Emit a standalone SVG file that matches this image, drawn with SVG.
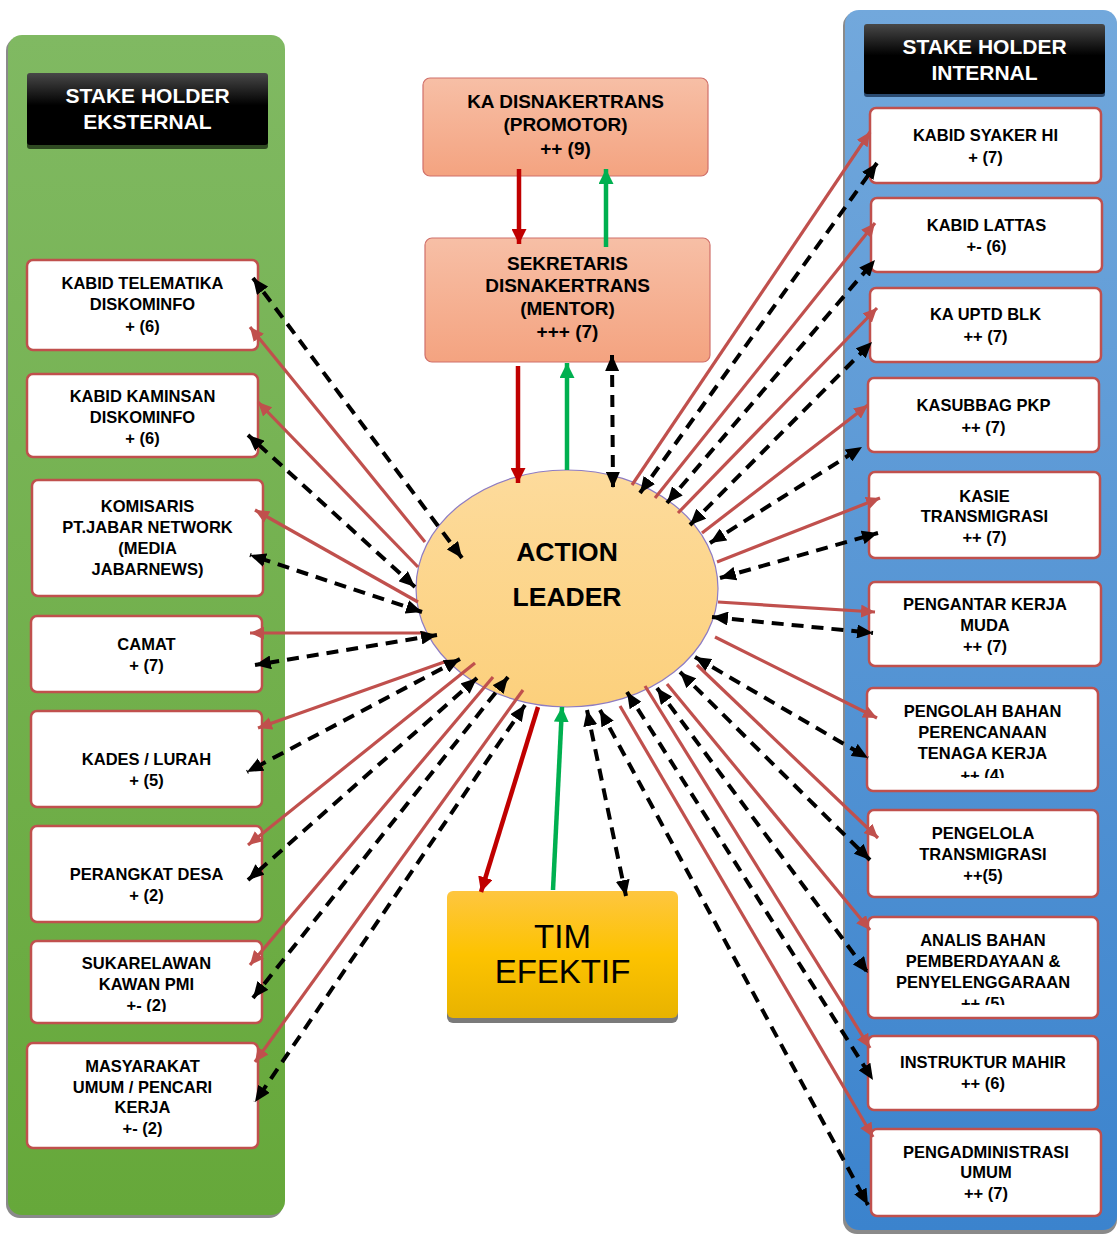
<svg xmlns="http://www.w3.org/2000/svg" width="1118" height="1235" viewBox="0 0 1118 1235">
  <defs>
    <linearGradient id="gGreen" x1="0" y1="0" x2="0" y2="1">
      <stop offset="0" stop-color="#80b962"/>
      <stop offset="1" stop-color="#66a83a"/>
    </linearGradient>
    <linearGradient id="gBlue" x1="0" y1="0" x2="0" y2="1">
      <stop offset="0" stop-color="#72a8dc"/>
      <stop offset="1" stop-color="#3b83cd"/>
    </linearGradient>
    <linearGradient id="gBlack" x1="0" y1="0" x2="0" y2="1">
      <stop offset="0" stop-color="#484848"/>
      <stop offset="0.45" stop-color="#000"/>
      <stop offset="1" stop-color="#000"/>
    </linearGradient>
    <linearGradient id="gSalmon" x1="0" y1="0" x2="0" y2="1">
      <stop offset="0" stop-color="#f7bfa6"/>
      <stop offset="1" stop-color="#f4a380"/>
    </linearGradient>
    <linearGradient id="gGold" x1="0" y1="0" x2="0" y2="1">
      <stop offset="0" stop-color="#fec640"/>
      <stop offset="0.5" stop-color="#fdc300"/>
      <stop offset="1" stop-color="#e8b300"/>
    </linearGradient>
    <linearGradient id="gCore" x1="0" y1="0" x2="0" y2="1">
      <stop offset="0" stop-color="#fddb9c"/>
      <stop offset="1" stop-color="#fcd07c"/>
    </linearGradient>
    <marker id="hr" markerUnits="userSpaceOnUse" markerWidth="14" markerHeight="13" refX="14" refY="6.5" orient="auto-start-reverse">
      <path d="M0,0 L14,6.5 L0,13 z" fill="#c0504d"/>
    </marker>
    <marker id="hb" markerUnits="userSpaceOnUse" markerWidth="16" markerHeight="14" refX="16" refY="7" orient="auto-start-reverse">
      <path d="M0,0 L16,7 L0,14 z" fill="#000"/>
    </marker>
    <marker id="hd" markerUnits="userSpaceOnUse" markerWidth="15" markerHeight="15" refX="15" refY="7.5" orient="auto">
      <path d="M0,0 L15,7.5 L0,15 z" fill="#c00000"/>
    </marker>
    <marker id="hg" markerUnits="userSpaceOnUse" markerWidth="15" markerHeight="15" refX="15" refY="7.5" orient="auto">
      <path d="M0,0 L15,7.5 L0,15 z" fill="#00b050"/>
    </marker>
    <clipPath id="clipL7"><rect x="31" y="941" width="231" height="71"/></clipPath>
    <clipPath id="clipR7"><rect x="867" y="688" width="231" height="90"/></clipPath>
    <clipPath id="clipR9"><rect x="868" y="917" width="230" height="88"/></clipPath>
    <style>
      .lbl { font-family: "Liberation Sans", Arial, sans-serif; font-weight: 700; font-size: 16.5px; text-anchor: middle; fill: #000; }
      .hdr { font-family: "Liberation Sans", Arial, sans-serif; font-weight: 700; font-size: 21px; text-anchor: middle; fill: #fff; }
      .top { font-family: "Liberation Sans", Arial, sans-serif; font-weight: 700; font-size: 19px; text-anchor: middle; fill: #000; }
      .core { font-family: "Liberation Sans", Arial, sans-serif; font-weight: 700; font-size: 26.5px; text-anchor: middle; fill: #000; }
      .tim { font-family: "Liberation Sans", Arial, sans-serif; font-size: 33px; text-anchor: middle; fill: #000; }
      .box { fill: #fff; stroke: #c0504d; stroke-width: 2.5; }
      .rl { fill: none; stroke: #c0504d; stroke-width: 3.2; marker-end: url(#hr); }
      .dl { fill: none; stroke: #000; stroke-width: 4; stroke-dasharray: 12 8; marker-start: url(#hb); marker-end: url(#hb); }
      .dk { fill: none; stroke: #c00000; stroke-width: 4.5; marker-end: url(#hd); }
      .gn { fill: none; stroke: #00b050; stroke-width: 4.5; marker-end: url(#hg); }
    </style>
  </defs>

  <rect width="1118" height="1235" fill="#fff"/>

  <!-- external stakeholder panel -->
  <g id="panel-eksternal">
    <rect x="6" y="37" width="277" height="1181" rx="14" fill="#8a8a8a"/>
    <rect x="8" y="35" width="277" height="1180" rx="14" fill="url(#gGreen)"/>
    <rect x="27" y="76" width="241" height="73" rx="3" fill="#2f4a22"/>
    <rect x="27" y="73" width="241" height="72" rx="3" fill="url(#gBlack)"/>
    <text class="hdr" x="147.5" y="103">STAKE HOLDER</text>
    <text class="hdr" x="147.5" y="129">EKSTERNAL</text>
  </g>

  <!-- internal stakeholder panel -->
  <g id="panel-internal">
    <rect x="843" y="12" width="274" height="1222" rx="14" fill="#8a8a8a"/>
    <rect x="845" y="10" width="272" height="1220" rx="14" fill="url(#gBlue)"/>
    <rect x="864" y="27" width="241" height="70" rx="3" fill="#2a4a70"/>
    <rect x="864" y="24" width="241" height="70" rx="3" fill="url(#gBlack)"/>
    <text class="hdr" x="984.5" y="54">STAKE HOLDER</text>
    <text class="hdr" x="984.5" y="80">INTERNAL</text>
  </g>

  <!-- external stakeholders -->
  <g id="ext-telematika">
    <rect class="box" x="27" y="260" width="231" height="90" rx="6"/>
    <text class="lbl" x="142.5" y="289">KABID TELEMATIKA</text>
    <text class="lbl" x="142.5" y="310">DISKOMINFO</text>
    <text class="lbl" x="142.5" y="332">+ (6)</text>
  </g>
  <g id="ext-kaminsan">
    <rect class="box" x="27" y="374" width="231" height="83" rx="6"/>
    <text class="lbl" x="142.5" y="402">KABID KAMINSAN</text>
    <text class="lbl" x="142.5" y="423">DISKOMINFO</text>
    <text class="lbl" x="142.5" y="444">+ (6)</text>
  </g>
  <g id="ext-komisaris">
    <rect class="box" x="32" y="480" width="231" height="116" rx="6"/>
    <text class="lbl" x="147.5" y="512">KOMISARIS</text>
    <text class="lbl" x="147.5" y="533">PT.JABAR NETWORK</text>
    <text class="lbl" x="147.5" y="554">(MEDIA</text>
    <text class="lbl" x="147.5" y="575">JABARNEWS)</text>
  </g>
  <g id="ext-camat">
    <rect class="box" x="31" y="616" width="231" height="76" rx="6"/>
    <text class="lbl" x="146.5" y="650">CAMAT</text>
    <text class="lbl" x="146.5" y="671">+ (7)</text>
  </g>
  <g id="ext-kades">
    <rect class="box" x="31" y="711" width="231" height="96" rx="6"/>
    <text class="lbl" x="146.5" y="765">KADES / LURAH</text>
    <text class="lbl" x="146.5" y="786">+ (5)</text>
  </g>
  <g id="ext-perangkat">
    <rect class="box" x="31" y="826" width="231" height="96" rx="6"/>
    <text class="lbl" x="146.5" y="880">PERANGKAT DESA</text>
    <text class="lbl" x="146.5" y="901">+ (2)</text>
  </g>
  <g id="ext-sukarelawan">
    <rect class="box" x="31" y="941" width="231" height="82" rx="6"/>
    <text class="lbl" x="146.5" y="969">SUKARELAWAN</text>
    <text class="lbl" x="146.5" y="990">KAWAN PMI</text>
    <text class="lbl" x="146.5" y="1011" clip-path="url(#clipL7)">+- (2)</text>
  </g>
  <g id="ext-masyarakat">
    <rect class="box" x="27" y="1043" width="231" height="105" rx="6"/>
    <text class="lbl" x="142.5" y="1072">MASYARAKAT</text>
    <text class="lbl" x="142.5" y="1093">UMUM / PENCARI</text>
    <text class="lbl" x="142.5" y="1113">KERJA</text>
    <text class="lbl" x="142.5" y="1134">+- (2)</text>
  </g>

  <!-- internal stakeholders -->
  <g id="int-syaker">
    <rect class="box" x="870" y="108" width="231" height="75" rx="6"/>
    <text class="lbl" x="985.5" y="141">KABID SYAKER HI</text>
    <text class="lbl" x="985.5" y="163">+ (7)</text>
  </g>
  <g id="int-lattas">
    <rect class="box" x="871" y="198" width="231" height="74" rx="6"/>
    <text class="lbl" x="986.5" y="231">KABID LATTAS</text>
    <text class="lbl" x="986.5" y="252">+- (6)</text>
  </g>
  <g id="int-uptd">
    <rect class="box" x="870" y="288" width="231" height="74" rx="6"/>
    <text class="lbl" x="985.5" y="320">KA UPTD BLK</text>
    <text class="lbl" x="985.5" y="342">++ (7)</text>
  </g>
  <g id="int-kasubbag">
    <rect class="box" x="868" y="378" width="231" height="74" rx="6"/>
    <text class="lbl" x="983.5" y="411">KASUBBAG PKP</text>
    <text class="lbl" x="983.5" y="433">++ (7)</text>
  </g>
  <g id="int-kasie">
    <rect class="box" x="869" y="472" width="231" height="86" rx="6"/>
    <text class="lbl" x="984.5" y="502">KASIE</text>
    <text class="lbl" x="984.5" y="522">TRANSMIGRASI</text>
    <text class="lbl" x="984.5" y="543">++ (7)</text>
  </g>
  <g id="int-pengantar">
    <rect class="box" x="869" y="582" width="232" height="84" rx="6"/>
    <text class="lbl" x="985" y="610">PENGANTAR KERJA</text>
    <text class="lbl" x="985" y="631">MUDA</text>
    <text class="lbl" x="985" y="652">++ (7)</text>
  </g>
  <g id="int-pengolah">
    <rect class="box" x="867" y="688" width="231" height="103" rx="6"/>
    <text class="lbl" x="982.5" y="717">PENGOLAH BAHAN</text>
    <text class="lbl" x="982.5" y="738">PERENCANAAN</text>
    <text class="lbl" x="982.5" y="759">TENAGA KERJA</text>
    <text class="lbl" x="982.5" y="781" clip-path="url(#clipR7)">++ (4)</text>
  </g>
  <g id="int-pengelola">
    <rect class="box" x="868" y="810" width="230" height="87" rx="6"/>
    <text class="lbl" x="983" y="839">PENGELOLA</text>
    <text class="lbl" x="983" y="860">TRANSMIGRASI</text>
    <text class="lbl" x="983" y="881">++(5)</text>
  </g>
  <g id="int-analis">
    <rect class="box" x="868" y="917" width="230" height="101" rx="6"/>
    <text class="lbl" x="983" y="946">ANALIS BAHAN</text>
    <text class="lbl" x="983" y="967">PEMBERDAYAAN &amp;</text>
    <text class="lbl" x="983" y="988">PENYELENGGARAAN</text>
    <text class="lbl" x="983" y="1009" clip-path="url(#clipR9)">++ (5)</text>
  </g>
  <g id="int-instruktur">
    <rect class="box" x="868" y="1036" width="230" height="74" rx="6"/>
    <text class="lbl" x="983" y="1068">INSTRUKTUR MAHIR</text>
    <text class="lbl" x="983" y="1089">++ (6)</text>
  </g>
  <g id="int-pengadministrasi">
    <rect class="box" x="871" y="1129" width="230" height="87" rx="6"/>
    <text class="lbl" x="986" y="1158">PENGADMINISTRASI</text>
    <text class="lbl" x="986" y="1178">UMUM</text>
    <text class="lbl" x="986" y="1199">++ (7)</text>
  </g>

  <!-- leadership chain -->
  <g id="promotor">
    <rect x="423" y="78" width="285" height="98" rx="7" fill="url(#gSalmon)" stroke="#d0706a" stroke-width="1.2"/>
    <text class="top" x="565.5" y="108">KA DISNAKERTRANS</text>
    <text class="top" x="565.5" y="131">(PROMOTOR)</text>
    <text class="top" x="565.5" y="155">++ (9)</text>
  </g>
  <g id="mentor">
    <rect x="425" y="238" width="285" height="124" rx="7" fill="url(#gSalmon)" stroke="#d0706a" stroke-width="1.2"/>
    <text class="top" x="567.5" y="270">SEKRETARIS</text>
    <text class="top" x="567.5" y="292">DISNAKERTRANS</text>
    <text class="top" x="567.5" y="315">(MENTOR)</text>
    <text class="top" x="567.5" y="338">+++ (7)</text>
  </g>
  <g id="action-leader">
    <ellipse cx="567" cy="588.5" rx="151" ry="118.5" fill="url(#gCore)" stroke="#8e7cc3" stroke-width="1.2"/>
    <text class="core" x="567" y="561">ACTION</text>
    <text class="core" x="567" y="606">LEADER</text>
  </g>
  <g id="tim-efektif">
    <rect x="447" y="895" width="231" height="128" rx="6" fill="#7a7a7a"/>
    <rect x="447" y="891" width="231" height="127" rx="6" fill="url(#gGold)"/>
    <text class="tim" x="562.5" y="948">TIM</text>
    <text class="tim" x="562.5" y="983">EFEKTIF</text>
  </g>

  <!-- connectors -->
  <g id="connectors">
    <!-- chain of command -->
    <line class="dk" x1="519" y1="169" x2="519" y2="244"/>
    <line class="gn" x1="606" y1="247" x2="606" y2="169"/>
    <line class="dk" x1="518" y1="366" x2="518" y2="483"/>
    <line class="gn" x1="567" y1="470" x2="567" y2="363"/>
    <line class="dl" x1="612" y1="355" x2="613" y2="488"/>
    <line class="dk" x1="538" y1="707" x2="481" y2="892"/>
    <line class="gn" x1="553" y1="890" x2="562" y2="707"/>
    <line class="dl" x1="587" y1="710" x2="626" y2="896"/>

    <!-- external side -->
    <line class="rl" x1="425" y1="542" x2="250" y2="327"/>
    <line class="dl" x1="462" y1="558" x2="253" y2="278"/>
    <line class="rl" x1="418" y1="567" x2="258" y2="402"/>
    <line class="dl" x1="415" y1="587" x2="248" y2="435"/>
    <line class="rl" x1="418" y1="602" x2="255" y2="510"/>
    <line class="dl" x1="422" y1="612" x2="250" y2="555"/>
    <line class="rl" x1="425" y1="633" x2="250" y2="633"/>
    <line class="dl" x1="437" y1="635" x2="255" y2="665"/>
    <line class="rl" x1="447" y1="661" x2="258" y2="728"/>
    <line class="dl" x1="460" y1="659" x2="247" y2="772"/>
    <line class="rl" x1="475" y1="663" x2="248" y2="845"/>
    <line class="dl" x1="477" y1="678" x2="248" y2="880"/>
    <line class="rl" x1="493" y1="677" x2="250" y2="965"/>
    <line class="dl" x1="508" y1="677" x2="253" y2="998"/>
    <line class="rl" x1="523" y1="690" x2="255" y2="1062"/>
    <line class="dl" x1="525" y1="705" x2="255" y2="1102"/>

    <!-- internal side -->
    <line class="rl" x1="632" y1="485" x2="870" y2="132"/>
    <line class="dl" x1="640" y1="493" x2="877" y2="163"/>
    <line class="rl" x1="655" y1="498" x2="875" y2="223"/>
    <line class="dl" x1="667" y1="503" x2="875" y2="260"/>
    <line class="rl" x1="678" y1="513" x2="877" y2="308"/>
    <line class="dl" x1="690" y1="525" x2="872" y2="342"/>
    <line class="rl" x1="702" y1="533" x2="868" y2="405"/>
    <line class="dl" x1="710" y1="543" x2="862" y2="447"/>
    <line class="rl" x1="717" y1="562" x2="880" y2="498"/>
    <line class="dl" x1="720" y1="578" x2="878" y2="533"/>
    <line class="rl" x1="718" y1="602" x2="875" y2="612"/>
    <line class="dl" x1="712" y1="617" x2="873" y2="633"/>
    <line class="rl" x1="715" y1="637" x2="877" y2="718"/>
    <line class="dl" x1="695" y1="657" x2="868" y2="758"/>
    <line class="rl" x1="697" y1="665" x2="878" y2="838"/>
    <line class="dl" x1="680" y1="672" x2="870" y2="860"/>
    <line class="rl" x1="667" y1="684" x2="870" y2="930"/>
    <line class="dl" x1="657" y1="688" x2="868" y2="973"/>
    <line class="rl" x1="645" y1="686" x2="870" y2="1048"/>
    <line class="dl" x1="627" y1="692" x2="873" y2="1080"/>
    <line class="rl" x1="620" y1="706" x2="873" y2="1137"/>
    <line class="dl" x1="600" y1="710" x2="868" y2="1205"/>
  </g>
</svg>
